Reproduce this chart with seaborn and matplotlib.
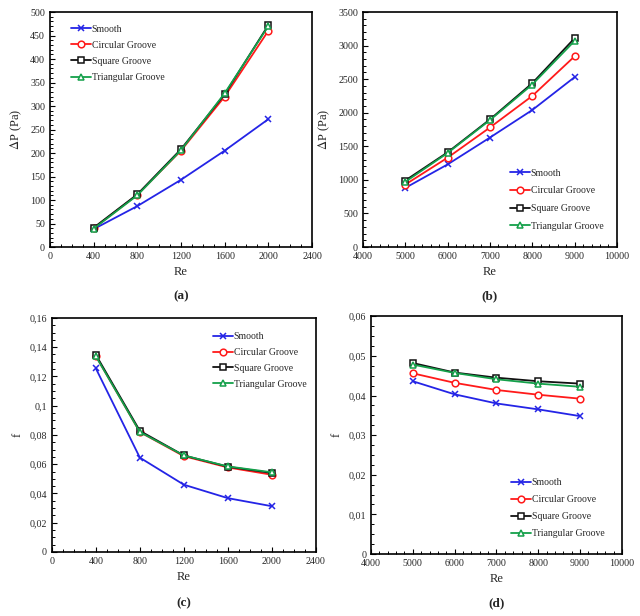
import matplotlib

matplotlib.use("Agg")
import matplotlib.pyplot as plt
import pandas as pd
import seaborn as sns
from matplotlib.ticker import AutoMinorLocator, MultipleLocator

series_names = ["Smooth", "Circular Groove", "Square Groove", "Triangular Groove"]

re_low = [400, 800, 1200, 1600, 2000]
re_high = [5000, 6000, 7000, 8000, 9000]

# pressure drop, laminar range (a)
dp_low_smooth = [38, 87, 143, 205, 272]
dp_low_circular = [40, 111, 205, 320, 460]
dp_low_square = [41, 112, 208, 325, 472]
dp_low_triangular = [39, 110, 206, 327, 470]

# pressure drop, turbulent range (b)
dp_high_smooth = [880, 1230, 1630, 2040, 2530]
dp_high_circular = [930, 1330, 1780, 2250, 2840]
dp_high_square = [990, 1410, 1900, 2440, 3110]
dp_high_triangular = [970, 1400, 1890, 2420, 3070]

# friction factor, laminar range (c)
f_low_smooth = [0.1255, 0.0645, 0.0460, 0.0368, 0.0313]
f_low_circular = [0.1340, 0.0820, 0.0655, 0.0578, 0.0528]
f_low_square = [0.1348, 0.0828, 0.0660, 0.0583, 0.0540]
f_low_triangular = [0.1338, 0.0820, 0.0660, 0.0585, 0.0545]

# friction factor, turbulent range (d)
f_high_smooth = [0.0436, 0.0403, 0.0380, 0.0365, 0.0348]
f_high_circular = [0.0456, 0.0432, 0.0414, 0.0402, 0.0392]
f_high_square = [0.0482, 0.0458, 0.0445, 0.0436, 0.0430]
f_high_triangular = [0.0478, 0.0457, 0.0441, 0.0430, 0.0422]

palette = {
    "Smooth": "#2424e6",
    "Circular Groove": "#ff1a1a",
    "Square Groove": "#111111",
    "Triangular Groove": "#14a04a",
}
markers = {"Smooth": "x", "Circular Groove": "o", "Square Groove": "s", "Triangular Groove": "^"}

sns.set_theme(style="white")
plt.rcParams["font.family"] = ["Liberation Serif", "DejaVu Serif"]
plt.rcParams["mathtext.fontset"] = "stix"


def make_frame(x, groups):
    rows = []
    for name, values in zip(series_names, groups):
        for xv, yv in zip(x, values):
            rows.append({"Re": xv, "val": yv, "series": name})
    return pd.DataFrame(rows)


def draw_panel(rect, frame, xlim, xstep, xminor, ylim, ystep, yminor, ylabel, yfmt, legend_kw, tag, tag_y):
    ax = fig.add_axes(rect)
    for name in series_names:
        sub = frame[frame["series"] == name]
        sns.lineplot(
            data=sub, x="Re", y="val", color=palette[name], marker=markers[name],
            label=name, ax=ax, linewidth=1.3, markersize=4.8,
            markerfacecolor="white", markeredgecolor=palette[name], markeredgewidth=1.1,
        )
    ax.set_xlim(*xlim)
    ax.set_ylim(*ylim)
    ax.xaxis.set_major_locator(MultipleLocator(xstep))
    ax.xaxis.set_minor_locator(AutoMinorLocator(xminor))
    ax.yaxis.set_major_locator(MultipleLocator(ystep))
    ax.yaxis.set_minor_locator(AutoMinorLocator(yminor))
    ax.yaxis.set_major_formatter(yfmt)
    ax.tick_params(which="both", direction="in", top=False, right=False, labelsize=7.2, color="black")
    ax.tick_params(which="major", length=3.5, width=0.8, left=True, bottom=True)
    ax.tick_params(which="minor", length=2, width=0.7, left=True, bottom=True)
    for spine in ax.spines.values():
        spine.set_color("black")
        spine.set_linewidth(1.2)
    ax.set_xlabel("Re", fontsize=9)
    ax.set_ylabel(ylabel, fontsize=9)
    handles, labels = ax.get_legend_handles_labels()
    ax.legend(handles, labels, frameon=False, fontsize=7, handlelength=2.0,
              handletextpad=0.1, borderaxespad=0.3, **legend_kw)
    fig.text(rect[0] + rect[2] / 2, tag_y, tag, ha="center", va="center",
             fontsize=9.5, fontweight="bold")
    return ax


fig = plt.figure(figsize=(6.4, 6.16), dpi=100)

draw_panel(
    [0.078, 0.599, 0.4095, 0.3815],
    make_frame(re_low, [dp_low_smooth, dp_low_circular, dp_low_square, dp_low_triangular]),
    (0, 2400), 400, 4, (0, 500), 50, 5, r"$\Delta$P (Pa)",
    lambda v, p: f"{v:.0f}",
    {"loc": "upper left", "bbox_to_anchor": (0.055, 0.975), "labelspacing": 0.73}, "(a)", 0.519,
)
draw_panel(
    [0.567, 0.599, 0.397, 0.3815],
    make_frame(re_high, [dp_high_smooth, dp_high_circular, dp_high_square, dp_high_triangular]),
    (4000, 10000), 1000, 5, (0, 3500), 500, 5, r"$\Delta$P (Pa)",
    lambda v, p: f"{v:.0f}",
    {"loc": "lower right", "bbox_to_anchor": (0.974, 0.04), "labelspacing": 0.9}, "(b)", 0.519,
)
draw_panel(
    [0.081, 0.1039, 0.4125, 0.380],
    make_frame(re_low, [f_low_smooth, f_low_circular, f_low_square, f_low_triangular]),
    (0, 2400), 400, 4, (0, 0.16), 0.02, 4, "f",
    lambda v, p: "0" if abs(v) < 1e-9 else f"{v:.2f}".rstrip("0").replace(".", ","),
    {"loc": "upper right", "bbox_to_anchor": (0.99, 0.968), "labelspacing": 0.7}, "(c)", 0.021,
)
draw_panel(
    [0.5797, 0.1006, 0.392, 0.386],
    make_frame(re_high, [f_high_smooth, f_high_circular, f_high_square, f_high_triangular]),
    (4000, 10000), 1000, 5, (0, 0.06), 0.01, 4, "f",
    lambda v, p: "0" if abs(v) < 1e-9 else f"{v:.2f}".replace(".", ","),
    {"loc": "lower right", "bbox_to_anchor": (0.958, 0.038), "labelspacing": 0.83}, "(d)", 0.021,
)

fig.savefig("out.png", dpi=100, facecolor="white")
